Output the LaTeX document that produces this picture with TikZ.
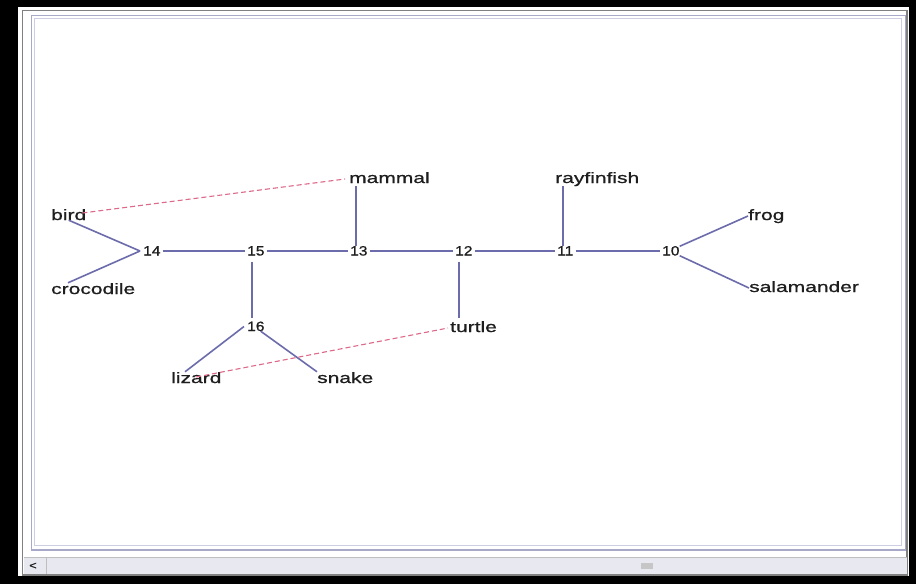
\documentclass[tikz,border=0pt]{standalone}
\usepackage{fontspec}
\newfontfamily\labfont[FakeStretch=1.4,FakeBold=0.8]{Liberation Sans}
\newfontfamily\numfont[FakeStretch=1.15,FakeBold=0.8]{Liberation Sans}
\definecolor{edgeblue}{RGB}{108,108,172}
\definecolor{linkpink}{RGB}{222,104,136}
\definecolor{labgrey}{RGB}{30,30,30}
\definecolor{paneouter}{RGB}{168,168,200}
\definecolor{paneinner}{RGB}{205,205,228}
\definecolor{barfill}{RGB}{232,232,240}
\begin{document}
\begin{tikzpicture}[x=1pt,y=-1pt,
		taxon/.style={font=\labfont\fontsize{15}{18}\selectfont,text=labgrey,inner sep=0pt,anchor=base west,text height=11pt,text depth=3pt},
		clade/.style={font=\numfont\fontsize{13.5}{16}\selectfont,text=labgrey,inner sep=0pt,anchor=base west,text height=9pt,text depth=0pt},
		branch/.style={edgeblue,line width=1.6pt},
		link/.style={linkpink,line width=1.1pt,dash pattern=on 5pt off 3pt}]
		\useasboundingbox (0,0) rectangle (923,584);
		\fill[black] (0,0) rectangle (916,584);
		\fill[white] (18,7) rectangle (909,576);
		\draw[gray,line width=1.5pt] (22.5,10.5) rectangle (907,575);
		\draw[paneouter,line width=1.2pt] (31.5,15.5) rectangle (905.5,550);
		\draw[paneinner,line width=1.2pt] (34.5,18.5) rectangle (901.5,545.5);
		\fill[barfill] (23.5,557) rectangle (906.5,574);
		\draw[gray!50] (23.5,557) -- (906.5,557);
		\draw[gray!50] (46,557) -- (46,574);
		\fill[gray!45] (641,563) rectangle (653,569);
		\node[font=\numfont\fontsize{11}{12}\selectfont,text=labgrey] (scrollleft) at (33,566) {<};
		\node[taxon] (mammal) at (349,183) {mammal};
		\node[taxon] (rayfinfish) at (555,183) {rayfinfish};
		\node[taxon] (bird) at (51,220) {bird};
		\node[taxon] (frog) at (748,220) {frog};
		\node[taxon] (crocodile) at (51,294) {crocodile};
		\node[taxon] (salamander) at (749,292) {salamander};
		\node[taxon] (turtle) at (450,332) {turtle};
		\node[taxon] (lizard) at (171,383) {lizard};
		\node[taxon] (snake) at (317,383) {snake};
		\node[clade] (n14) at (143,255.5) {14};
		\node[clade] (n15) at (247,255.5) {15};
		\node[clade] (n13) at (350,255.5) {13};
		\node[clade] (n12) at (455,255.5) {12};
		\node[clade] (n11) at (557,255.5) {11};
		\node[clade] (n10) at (662,255.5) {10};
		\node[clade] (n16) at (247,331) {16};
		\draw[branch,shorten <=2pt,shorten >=2pt] (n14.east) -- (n15.west);
		\draw[branch,shorten <=2pt,shorten >=2pt] (n15.east) -- (n13.west);
		\draw[branch,shorten <=2pt,shorten >=2pt] (n13.east) -- (n12.west);
		\draw[branch,shorten <=2pt,shorten >=2pt] (n12.east) -- (n11.west);
		\draw[branch,shorten <=2pt,shorten >=2pt] (n11.east) -- (n10.west);
		\draw[branch] ([xshift=6pt]n13.north west) -- ([xshift=7pt]mammal.south west);
		\draw[branch] ([xshift=6pt]n11.north west) -- ([xshift=8pt]rayfinfish.south west);
		\draw[branch] ([xshift=4pt,yshift=-6pt]n12.south west) -- ([xshift=9pt,yshift=3pt]turtle.north west);
		\draw[branch] ([xshift=5pt,yshift=-6pt]n15.south west) -- ([xshift=5pt,yshift=4pt]n16.north west);
		\draw[branch] ([xshift=-3pt]n14.west) -- ([yshift=3pt]bird.south);
		\draw[branch] ([xshift=-3pt]n14.west) -- ([xshift=17pt]crocodile.north west);
		\draw[branch] (n10.north east) -- (frog.west);
		\draw[branch] (n10.south east) -- (salamander.west);
		\draw[branch] ([xshift=-3pt]n16.west) -- ([xshift=14pt]lizard.north west);
		\draw[branch] ([xshift=-4pt]n16.south east) -- (snake.north west);
		\draw[link] ([xshift=-4pt,yshift=3pt]bird.east) -- ([xshift=-4pt]mammal.west);
		\draw[link] ([yshift=2pt]lizard.center) -- ([xshift=-2pt]turtle.west);
\end{tikzpicture}
\end{document}
